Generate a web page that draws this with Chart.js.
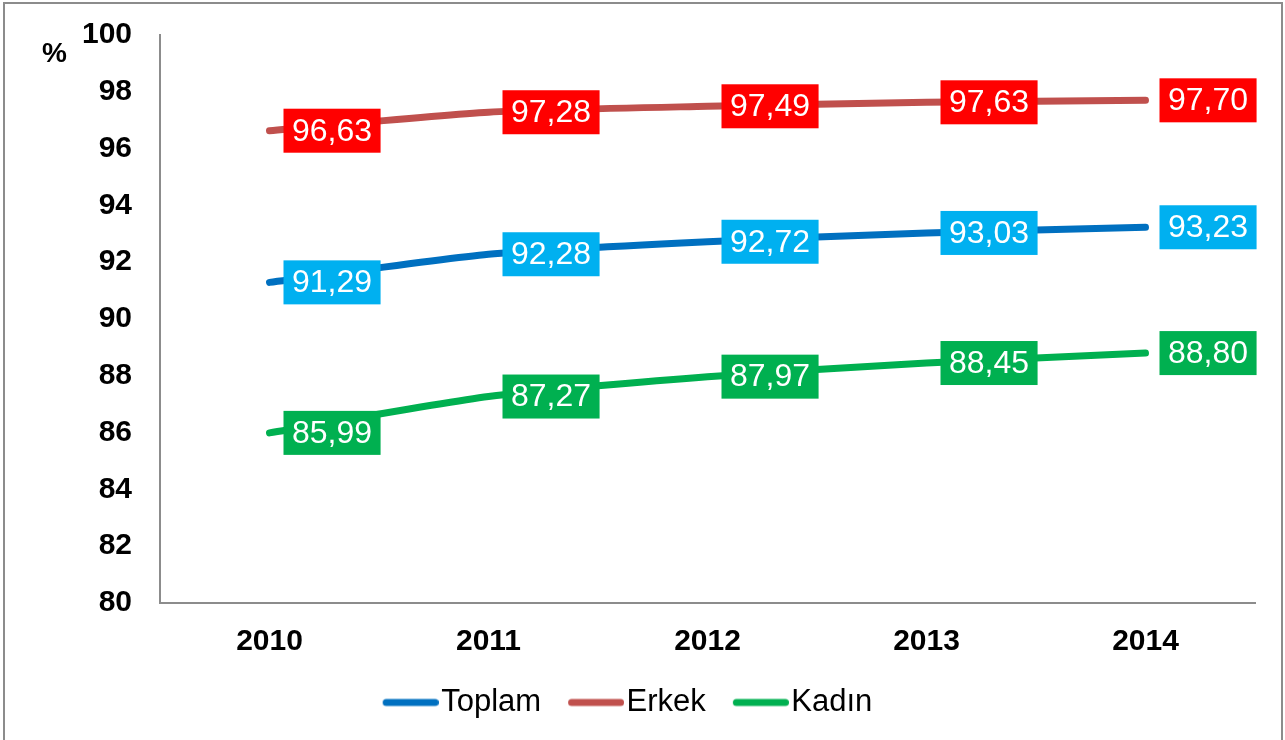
<!DOCTYPE html>
<html lang="tr">
  <head>
    <meta charset="UTF-8" />
    <title>Toplam / Erkek / Kadın</title>
    <script src="https://cdn.jsdelivr.net/npm/chart.js"></script>
    <style>
      body {
        margin: 0;
        background: #fff;
      }
      canvas {
        display: block;
      }
    </style>
  </head>
  <body>
    <canvas id="grafik" width="1285" height="740"></canvas>

    <script>
      const yillar = ["2010", "2011", "2012", "2013", "2014"];
      const toplam = [91.29, 92.28, 92.72, 93.03, 93.23];
      const erkek = [96.63, 97.28, 97.49, 97.63, 97.7];
      const kadin = [85.99, 87.27, 87.97, 88.45, 88.8];
      const yMin = 80;
      const yMax = 100;
      const yAdim = 2;

      const font = "'Liberation Sans', Arial, sans-serif";

      // legend line drawn into a small canvas so the gap to the text stays tight
      function legendCizgi(renk) {
        const c = document.createElement("canvas");
        c.width = 69;
        c.height = 10;
        const g = c.getContext("2d");
        g.strokeStyle = renk;
        g.lineWidth = 7;
        g.lineCap = "round";
        g.beginPath();
        g.moveTo(16.5, 5);
        g.lineTo(65.5, 5);
        g.stroke();
        return c;
      }

      function seri(ad, veri, renk, kutu) {
        return {
          label: ad,
          data: veri,
          borderColor: renk,
          backgroundColor: renk,
          borderWidth: 7,
          borderCapStyle: "round",
          tension: 0.2,
          pointRadius: 0,
          pointHoverRadius: 0,
          pointStyle: legendCizgi(renk),
          etiketRenk: kutu,
        };
      }

      const etiketler = {
        id: "etiketler",
        afterDatasetsDraw(chart) {
          const ctx = chart.ctx;
          ctx.save();
          ctx.font = "32px " + font;
          ctx.textAlign = "center";
          ctx.textBaseline = "middle";
          chart.data.datasets.forEach((ds, i) => {
            chart.getDatasetMeta(i).data.forEach((p, j) => {
              const txt = ds.data[j].toFixed(2).replace(".", ",");
              const w = ctx.measureText(txt).width + 17;
              const x = p.x + 14;
              ctx.fillStyle = ds.etiketRenk;
              ctx.fillRect(x, p.y - 22, w, 44);
              ctx.fillStyle = "#fff";
              ctx.fillText(txt, x + w / 2, p.y + 1);
            });
          });
          ctx.restore();
        },
      };

      const cerceve = {
        id: "cerceve",
        afterDraw(chart) {
          const ctx = chart.ctx;
          const y = chart.scales.y;
          ctx.save();
          ctx.strokeStyle = "#8c8c8c";
          ctx.lineWidth = 2;
          ctx.strokeRect(4, 3, chart.width - 7, chart.height + 10);
          ctx.fillStyle = "#000";
          ctx.font = "bold 28px " + font;
          ctx.textAlign = "left";
          ctx.textBaseline = "middle";
          ctx.fillText("%", 42, y.getPixelForValue(yMax) + 19);
          ctx.restore();
        },
      };

      new Chart(document.getElementById("grafik"), {
        type: "line",
        data: {
          labels: yillar,
          datasets: [
            seri("Toplam", toplam, "#0070C0", "#00B0F0"),
            seri("Erkek", erkek, "#C0504D", "#FF0000"),
            seri("Kadın", kadin, "#00B050", "#00B050"),
          ],
        },
        options: {
          responsive: false,
          animation: false,
          layout: {
            padding: { left: 0, right: 30, top: 35, bottom: 12 },
          },
          plugins: {
            tooltip: { enabled: false },
            legend: {
              position: "bottom",
              labels: {
                usePointStyle: true,
                pointStyleWidth: 43,
                padding: 27,
                color: "#000",
                font: { family: font, size: 31 },
              },
            },
          },
          scales: {
            x: {
              offset: true,
              afterFit: (s) => {
                s.height = 57;
              },
              grid: { display: false, drawTicks: false },
              border: { display: true, color: "#8c8c8c", width: 2 },
              ticks: {
                padding: 21,
                color: "#000",
                font: { family: font, size: 30, weight: "bold" },
              },
            },
            y: {
              min: yMin,
              max: yMax,
              afterFit: (s) => {
                s.width = 160;
                s.paddingTop = 0;
                s.paddingBottom = 0;
              },
              grid: { display: false, drawTicks: false },
              border: { display: true, color: "#8c8c8c", width: 2 },
              ticks: {
                stepSize: yAdim,
                padding: 28,
                color: "#000",
                font: { family: font, size: 30, weight: "bold" },
              },
            },
          },
        },
        plugins: [etiketler, cerceve],
      });
    </script>
  </body>
</html>
